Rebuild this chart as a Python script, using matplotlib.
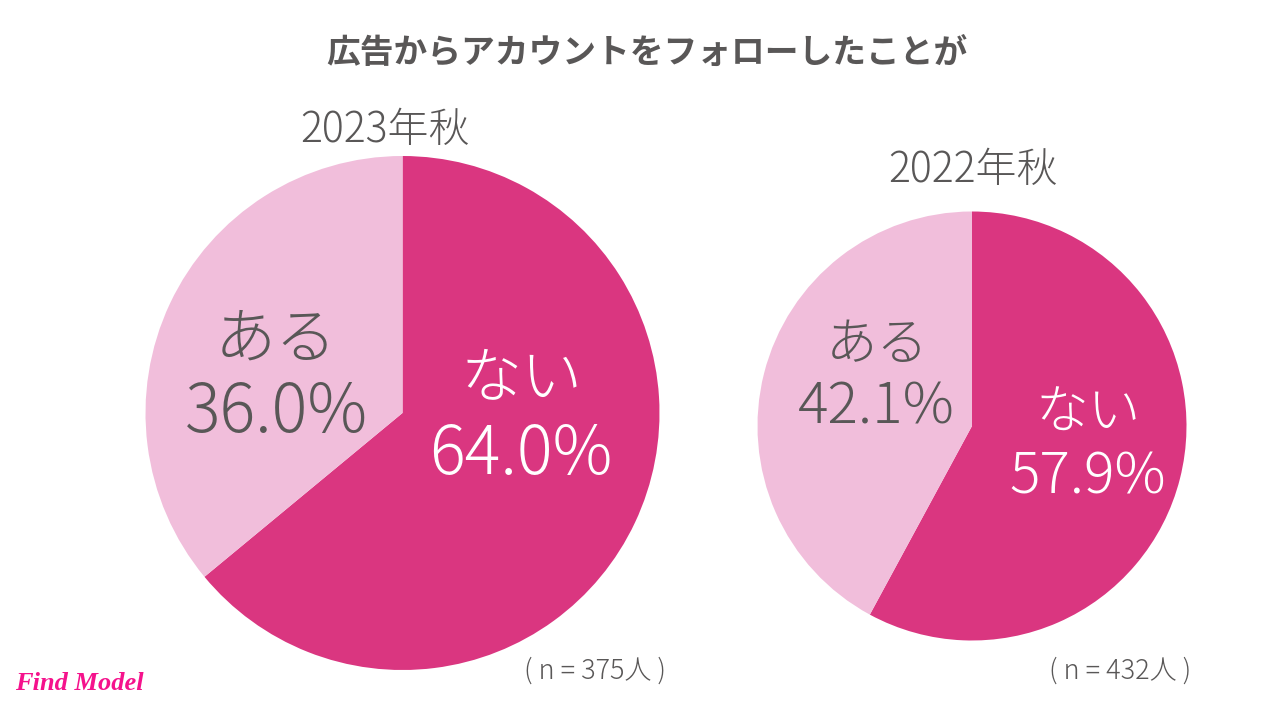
import matplotlib
matplotlib.use('Agg')
import matplotlib.pyplot as plt

plt.rcParams['font.family'] = ['Noto Sans CJK JP', 'DejaVu Sans']

labels = ['ない', 'ある']
values_2023 = [64.0, 36.0]
values_2022 = [57.9, 42.1]
colors = ['#DA3680', '#F1BEDB']
dark = '#595757'

fig = plt.figure(figsize=(12.8, 7.2), dpi=100)

# pies sit in pixel boxes
def pie_axes(cx, cy, r):
    ax = fig.add_axes([(cx - r) / 1280, 1 - (cy + r) / 720, 2 * r / 1280, 2 * r / 720])
    return ax

ax1 = pie_axes(402.5, 413, 257)
ax1.pie(values_2023, colors=colors, startangle=90, counterclock=False, radius=1,
        wedgeprops={'linewidth': 0})
ax1.set_xlim(-1, 1)
ax1.set_ylim(-1, 1)

ax2 = pie_axes(972, 426, 214.5)
ax2.pie(values_2022, colors=colors, startangle=90, counterclock=False, radius=1,
        wedgeprops={'linewidth': 0})
ax2.set_xlim(-1, 1)
ax2.set_ylim(-1, 1)

def put(x, y, s, size, color=dark, weight='light', ha='center'):
    fig.text(x / 1280, 1 - y / 720, s, fontsize=size, color=color, fontweight=weight,
             ha=ha, va='center')

put(647, 52, '広告からアカウントをフォローしたことが', 24.3, weight='bold')
put(385, 130, '2023年秋', 29.5)
put(973, 170, '2022年秋', 29.5)

put(522, 379, labels[0], 44, color='white')
put(521, 455, f'{values_2023[0]:.1f}%', 48, color='white')
put(276, 341, labels[1], 44)
put(276, 413, f'{values_2023[1]:.1f}%', 48)

put(1088, 414, labels[0], 38, color='white')
put(1088, 477, f'{values_2022[0]:.1f}%', 41, color='white')
put(877, 345, labels[1], 37)
put(876, 407, f'{values_2022[1]:.1f}%', 41)

put(595, 671, '( n = 375人 )', 19.5)
put(1120, 671, '( n = 432人 )', 19.5)

fig.text(15 / 1280, 1 - 684 / 720, 'Find Model', fontsize=19, color='#F5128C',
         fontweight='bold', style='italic', family='Liberation Serif', ha='left', va='center')

fig.savefig('out.png', dpi=100)
